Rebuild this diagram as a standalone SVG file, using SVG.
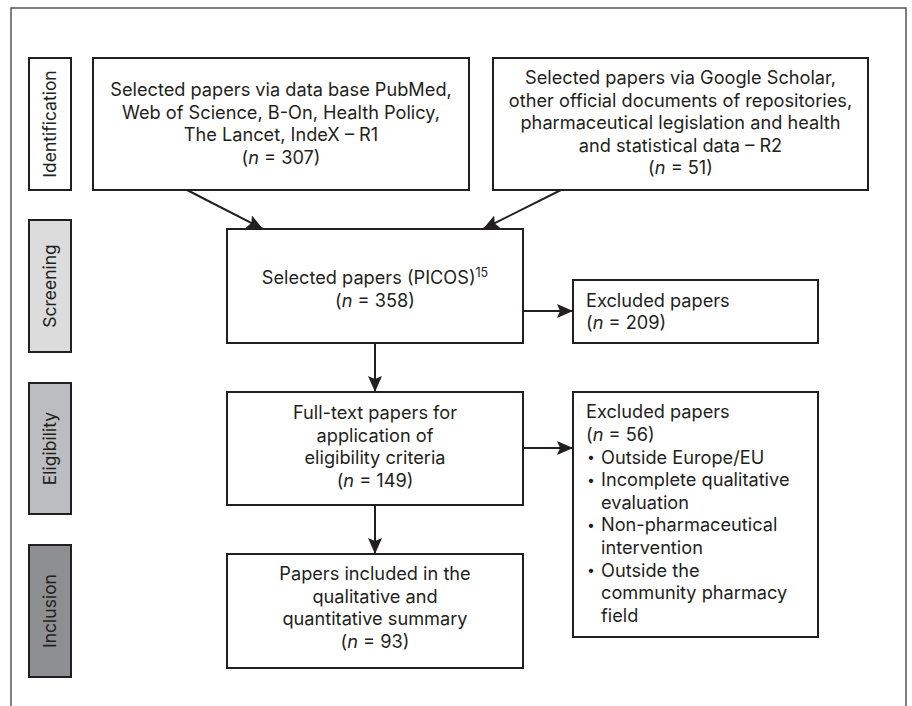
<svg xmlns="http://www.w3.org/2000/svg" width="912" height="706" viewBox="0 0 912 706">
<style>
text{font-family:Inter,"Open Sans","Liberation Sans",sans-serif;font-size:18.2px;fill:#231f20}
.c{text-anchor:middle}
.v{font-size:17.5px;text-anchor:middle}
.i{font-style:italic}
.b{font-size:14px}
.box{fill:#fff;stroke:#231f20;stroke-width:2}
.lab{stroke:#231f20;stroke-width:2}
.conn{stroke:#231f20;stroke-width:2;fill:none}
</style>
<defs>
<marker id="ah" markerUnits="userSpaceOnUse" markerWidth="18" markerHeight="14" refX="16" refY="7" orient="auto">
<path d="M0,0 L16,7 L0,14 L3,7 Z" fill="#231f20"/>
</marker>
</defs>
<rect width="912" height="706" fill="#fff"/>
<rect x="11" y="8" width="895" height="720" fill="none" stroke="#555" stroke-width="1.5"/>

<g id="label-identification">
<rect class="lab" x="29" y="58" width="42" height="132" fill="#fff"/>
<text class="v" transform="translate(56,124) rotate(-90)">Identification</text>
</g>
<g id="label-screening">
<rect class="lab" x="29" y="220" width="42" height="132" fill="#dcdcdd"/>
<text class="v" transform="translate(56,286) rotate(-90)">Screening</text>
</g>
<g id="label-eligibility">
<rect class="lab" x="29" y="383" width="42" height="131" fill="#bcbdc0"/>
<text class="v" transform="translate(56,448.5) rotate(-90)">Eligibility</text>
</g>
<g id="label-inclusion">
<rect class="lab" x="29" y="545" width="42" height="132" fill="#8e8f91"/>
<text class="v" transform="translate(56,611) rotate(-90)">Inclusion</text>
</g>

<g id="node-r1">
<rect class="box" x="93" y="58" width="376" height="132"/>
<text class="c"><tspan x="281" y="96">Selected papers via data base PubMed,</tspan><tspan x="281" y="118.6">Web of Science, B-On, Health Policy,</tspan><tspan x="281" y="141.2">The Lancet, IndeX – R1</tspan><tspan x="281" y="163.8">(<tspan class="i">n</tspan> = 307)</tspan></text>
</g>
<g id="node-r2">
<rect class="box" x="493" y="58" width="375" height="132"/>
<text class="c"><tspan x="680.5" y="84">Selected papers via Google Scholar,</tspan><tspan x="680.5" y="106.6">other official documents of repositories,</tspan><tspan x="680.5" y="129.2">pharmaceutical legislation and health</tspan><tspan x="680.5" y="151.8">and statistical data – R2</tspan><tspan x="680.5" y="174.4">(<tspan class="i">n</tspan> = 51)</tspan></text>
</g>
<g id="node-screen">
<rect class="box" x="227" y="229" width="296" height="114"/>
<text class="c"><tspan x="375" y="284">Selected papers (PICOS)<tspan font-size="12.5" dy="-7">15</tspan></tspan><tspan x="375" y="306.6">(<tspan class="i">n</tspan> = 358)</tspan></text>
</g>
<g id="node-excl1">
<rect class="box" x="573" y="280" width="245" height="63"/>
<text><tspan x="586" y="306.6">Excluded papers</tspan><tspan x="586" y="329.2">(<tspan class="i">n</tspan> = 209)</tspan></text>
</g>
<g id="node-fulltext">
<rect class="box" x="227" y="392" width="296" height="113"/>
<text class="c"><tspan x="375" y="419">Full-text papers for</tspan><tspan x="375" y="441.6">application of</tspan><tspan x="375" y="464.2">eligibility criteria</tspan><tspan x="375" y="486.8">(<tspan class="i">n</tspan> = 149)</tspan></text>
</g>
<g id="node-excl2">
<rect class="box" x="573" y="392" width="245" height="245"/>
<text><tspan x="586" y="418.4">Excluded papers</tspan><tspan x="586" y="441">(<tspan class="i">n</tspan> = 56)</tspan><tspan class="b" x="587" y="462">•</tspan><tspan x="601" y="463.6">Outside Europe/EU</tspan><tspan class="b" x="587" y="484.6">•</tspan><tspan x="601" y="486.2">Incomplete qualitative</tspan><tspan x="601" y="508.8">evaluation</tspan><tspan class="b" x="587" y="529.8">•</tspan><tspan x="601" y="531.4">Non-pharmaceutical</tspan><tspan x="601" y="554">intervention</tspan><tspan class="b" x="587" y="575">•</tspan><tspan x="601" y="576.6">Outside the</tspan><tspan x="601" y="599.2">community pharmacy</tspan><tspan x="601" y="621.8">field</tspan></text>
</g>
<g id="node-included">
<rect class="box" x="227" y="554" width="296" height="114"/>
<text class="c"><tspan x="375" y="580">Papers included in the</tspan><tspan x="375" y="602.6">qualitative and</tspan><tspan x="375" y="625.2">quantitative summary</tspan><tspan x="375" y="647.8">(<tspan class="i">n</tspan> = 93)</tspan></text>
</g>

<g id="connectors">
<line class="conn" x1="187" y1="190" x2="263" y2="229" marker-end="url(#ah)"/>
<line class="conn" x1="561" y1="190" x2="483" y2="229" marker-end="url(#ah)"/>
<line class="conn" x1="375" y1="343" x2="375" y2="392" marker-end="url(#ah)"/>
<line class="conn" x1="523" y1="311" x2="573" y2="311" marker-end="url(#ah)"/>
<line class="conn" x1="375" y1="505" x2="375" y2="554" marker-end="url(#ah)"/>
<line class="conn" x1="523" y1="448" x2="573" y2="448" marker-end="url(#ah)"/>
</g>
</svg>
